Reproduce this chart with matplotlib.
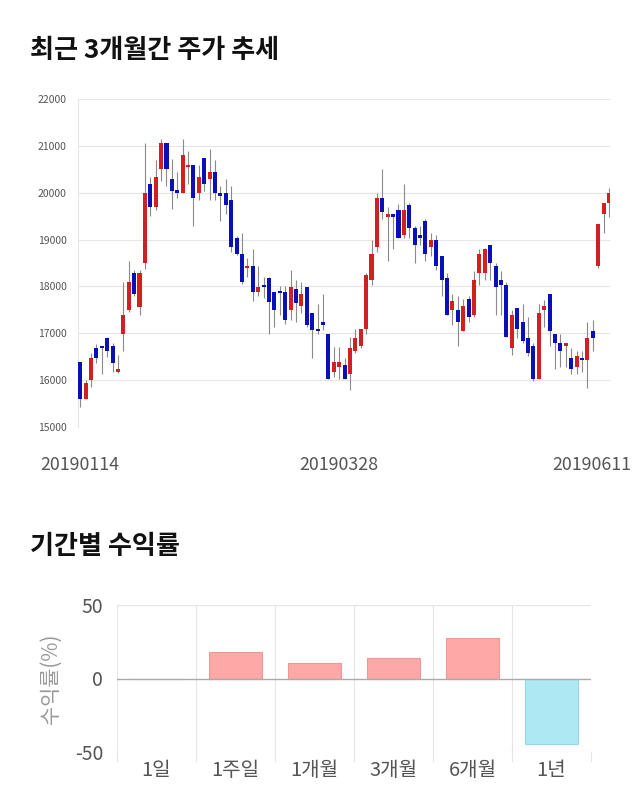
import matplotlib
matplotlib.use("Agg")
import matplotlib.pyplot as plt
import matplotlib.transforms as mtransforms
import numpy as np

plt.rcParams['font.family'] = ['Noto Sans CJK KR', 'DejaVu Sans']

# ---- candle data (Korean convention: red = up, blue = down) ----
opens = [16380, 15590, 16000, 16680, 16690, 16890, 16730, 16180, 16980, 17490,
         18290, 17570, 18490, 20190, 19700, 20500, 21060, 20300, 20050, 20000,
         20540, 20600, 20000, 20750, 20300, 20450, 19990, 19990, 19840, 19040,
         18690, 18390, 18440, 17890, 18000, 18180, 17890, 17890, 17890, 17490,
         17940, 17590, 17990, 17430, 17090, 17240, 16980, 16180, 16290, 16330,
         16130, 16630, 16730, 17090, 18140, 18840, 19890, 19490, 19540, 19640,
         19090, 19740, 19240, 19090, 19390, 18840, 19000, 18640, 18180, 17490,
         17490, 17040, 17740, 17390, 18290, 18290, 18890, 18430, 18140, 18040,
         16680, 17540, 17240, 16890, 16730, 16030, 17490, 17840, 16980, 16790,
         16730, 16480, 16290, 16440, 16430, 17040, 18440, 19540, 19790]
highs = [16380, 16010, 16570, 16770, 16700, 16930, 16790, 16540, 18090, 18540,
         18360, 18360, 21070, 20340, 20700, 21140, 21060, 20710, 20440, 21140,
         20890, 20600, 20590, 20750, 20940, 20700, 20140, 20300, 20140, 19070,
         19140, 18610, 18790, 18430, 18210, 18210, 17890, 18000, 18000, 18340,
         18140, 18090, 17990, 17430, 17630, 17840, 16980, 16700, 16700, 16480,
         16930, 17090, 17090, 18290, 19000, 20000, 20500, 19690, 19540, 19750,
         20190, 19790, 19290, 19290, 19440, 19140, 19090, 18640, 18290, 17840,
         17790, 17730, 17790, 18320, 18790, 18820, 18890, 18490, 18320, 18090,
         17490, 17540, 17630, 17340, 16790, 17630, 17720, 17840, 16980, 16980,
         16790, 16680, 16630, 16630, 17240, 17290, 19340, 19790, 20090]
lows = [15430, 15590, 15860, 16370, 16130, 16500, 16180, 16160, 16620, 17460,
        17800, 17380, 18380, 19510, 19640, 20250, 20140, 19660, 19890, 20000,
        20190, 19300, 19840, 20040, 19840, 19840, 19390, 19540, 18740, 18680,
        18050, 18210, 17690, 17790, 17750, 16980, 17130, 17400, 17190, 17290,
        17240, 17440, 17130, 16480, 16980, 17070, 16030, 16070, 16030, 16030,
        15790, 16570, 16680, 16980, 18040, 18740, 19440, 18540, 18790, 19040,
        19040, 19040, 18500, 18890, 18540, 18640, 18340, 17800, 17390, 17180,
        16730, 17040, 17240, 17340, 18040, 18140, 18140, 17390, 17390, 16930,
        16540, 16890, 16790, 16520, 15980, 16030, 17130, 16730, 16230, 16290,
        16290, 16130, 16130, 16180, 15840, 16630, 18390, 19140, 19490]
closes = [15590, 15930, 16480, 16480, 16680, 16630, 16370, 16230, 17390, 18090,
          17840, 18290, 20000, 19700, 20340, 21060, 20500, 20040, 20000, 20800,
          20590, 19890, 20340, 20190, 20450, 20000, 19940, 19740, 18840, 18690,
          18090, 18440, 17890, 17990, 17990, 17670, 17490, 17860, 17290, 17990,
          17640, 17840, 17180, 17070, 17040, 17180, 16030, 16380, 16380, 16030,
          16680, 16890, 17090, 18240, 18690, 19890, 19590, 19540, 19490, 19040,
          19640, 19240, 18890, 19040, 18690, 19000, 18440, 18140, 17390, 17690,
          17240, 17590, 17340, 18140, 18690, 18790, 18490, 17990, 18040, 16930,
          17390, 17090, 16840, 16570, 16030, 17430, 17590, 17040, 16790, 16630,
          16790, 16230, 16520, 16430, 16890, 16890, 19340, 19790, 20000]
date_labels = ['20190114', '20190328', '20190611']
date_label_idx = [0, 48, 98]
price_ticks = [15000, 16000, 17000, 18000, 19000, 20000, 21000, 22000]

# ---- period returns ----
periods = ['1일', '1주일', '1개월', '3개월', '6개월', '1년']
returns = [0.0, 18.2, 10.7, 14.1, 27.7, -44.8]

fig = plt.figure(figsize=(6.4, 8.1), dpi=100)

# Titles
fig.text(30/640, 1-51/810, '최근 3개월간 주가 추세', fontsize=18.8, fontweight='bold',
         color='#111111', ha='left', va='center')
fig.text(30/640, 1-546/810, '기간별 수익률', fontsize=18.8, fontweight='bold',
         color='#111111', ha='left', va='center')

# ---- Candlestick chart ----
ax1 = fig.add_axes([78/640, 1-427/810, (610-78)/640, (427-99)/810])
x = np.arange(len(opens))
red = '#d0201f'
blue = '#0a10b8'
for i in x:
    o, h, l, c = opens[i], highs[i], lows[i], closes[i]
    col = red if c >= o else blue
    ax1.vlines(i, l, h, color='#8a8a8a', linewidth=0.8, zorder=2)
    bottom = min(o, c)
    height = max(abs(c - o), 40)
    ax1.bar(i, height, bottom=bottom, width=0.75, color=col, edgecolor='none', zorder=3)

ax1.set_xlim(-0.4, 98.2)
ax1.set_ylim(15000, 22000)
ax1.set_yticks(price_ticks)
ax1.set_yticklabels([str(t) for t in price_ticks], fontsize=7.5, color='#555555')
ax1.yaxis.grid(True, color='#e6e6e6', linewidth=0.8)
ax1.set_axisbelow(True)
ax1.tick_params(axis='y', length=0, pad=8)
ax1.set_xticks(date_label_idx)
ax1.set_xticklabels(date_labels, fontsize=12.8, color='#555555')
ax1.tick_params(axis='x', length=0, pad=21)
for s in ['top', 'right', 'bottom']:
    ax1.spines[s].set_visible(False)
ax1.spines['left'].set_color('#e6e6e6')
# shift last date label to stay inside the canvas
lbls = ax1.get_xticklabels()
off = mtransforms.ScaledTranslation(-17/100, 0, fig.dpi_scale_trans)
lbls[-1].set_transform(lbls[-1].get_transform() + off)

# ---- Returns bar chart ----
ax2 = fig.add_axes([117/640, 1-752/810, (591-117)/640, (752-605)/810])
xb = np.arange(len(periods))
colors = ['#ffa8a8' if v >= 0 else '#aee9f3' for v in returns]
edges = ['#e89a9a' if v >= 0 else '#99d6e2' for v in returns]
ax2.bar(xb, returns, width=0.68, color=colors, edgecolor=edges, linewidth=0.8, zorder=3)
ax2.set_xlim(-0.5, len(periods) - 0.5)
ax2.set_ylim(-50, 50)
ax2.set_yticks([-50, 0, 50])
ax2.set_yticklabels(['-50', '0', '50'], fontsize=14, color='#555555')
ax2.tick_params(axis='y', length=0, pad=10)
ax2.set_xticks(xb)
ax2.set_xticklabels(periods, fontsize=14.5, color='#555555')
ax2.tick_params(axis='x', length=0, pad=6)
for yv in [-50, 50]:
    ax2.axhline(yv, color='#e3e3e3', linewidth=0.8, zorder=1)
ax2.axhline(0, color='#aaaaaa', linewidth=1.0, zorder=4)
for xv in np.arange(-0.5, len(periods), 1.0):
    ax2.plot([xv, xv], [-50, 50], color='#e6e6e6', linewidth=0.8, zorder=1)
    ax2.plot([xv, xv], [-50, -56], color='#e6e6e6', linewidth=0.8, zorder=1, clip_on=False)
for s in ax2.spines.values():
    s.set_visible(False)
ax2.set_ylabel('수익률(%)', fontsize=15, color='#999999', labelpad=9)

fig.savefig('out.png', dpi=100, facecolor='white')
